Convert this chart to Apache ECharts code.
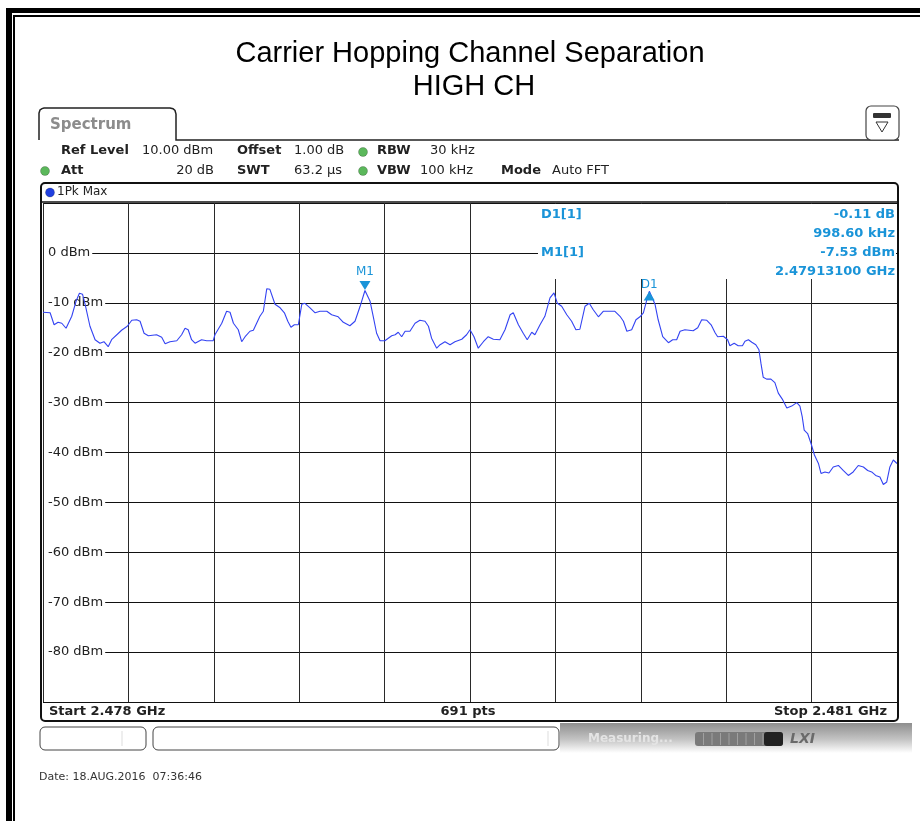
<!DOCTYPE html>
<html>
<head>
<meta charset="utf-8">
<title>Carrier Hopping Channel Separation</title>
<script src="https://cdn.jsdelivr.net/npm/echarts@6/dist/echarts.min.js"></script>
<style>
  html, body { margin: 0; padding: 0; background: #fff; }
  #chart { width: 920px; height: 821px; }
</style>
</head>
<body>
<div id="chart"></div>
<script>
"use strict"
// sweep 2.478 .. 2.481 GHz, x values are MHz from start
const startGHz = 2.478;
const stopGHz = 2.481;
const freqOffset = [
  0.000, 0.025, 0.039, 0.053, 0.066, 0.081, 0.101, 0.116, 0.128, 0.139,
  0.148, 0.165, 0.183, 0.200, 0.214, 0.229, 0.241, 0.265, 0.276, 0.296,
  0.312, 0.329, 0.341, 0.355, 0.370, 0.399, 0.417, 0.429, 0.446, 0.470,
  0.487, 0.499, 0.510, 0.522, 0.534, 0.557, 0.575, 0.598, 0.604, 0.628,
  0.645, 0.657, 0.669, 0.686, 0.698, 0.710, 0.727, 0.739, 0.762, 0.774,
  0.786, 0.797, 0.815, 0.833, 0.848, 0.860, 0.871, 0.883, 0.897, 0.909,
  0.920, 0.938, 0.956, 0.973, 0.997, 1.014, 1.037, 1.055, 1.078, 1.096,
  1.114, 1.131, 1.149, 1.160, 1.172, 1.184, 1.201, 1.213, 1.225, 1.237,
  1.248, 1.260, 1.272, 1.289, 1.307, 1.324, 1.342, 1.354, 1.365, 1.383,
  1.395, 1.412, 1.430, 1.447, 1.471, 1.488, 1.500, 1.514, 1.529, 1.547,
  1.564, 1.582, 1.605, 1.623, 1.641, 1.652, 1.670, 1.687, 1.701, 1.717,
  1.728, 1.746, 1.763, 1.781, 1.795, 1.807, 1.822, 1.840, 1.857, 1.872,
  1.886, 1.904, 1.919, 1.933, 1.951, 1.968, 1.992, 2.009, 2.027, 2.039,
  2.051, 2.068, 2.083, 2.097, 2.109, 2.123, 2.130, 2.150, 2.161, 2.177,
  2.197, 2.212, 2.226, 2.238, 2.255, 2.284, 2.300, 2.314, 2.332, 2.347,
  2.361, 2.370, 2.390, 2.405, 2.413, 2.428, 2.442, 2.457, 2.466, 2.478,
  2.490, 2.504, 2.515, 2.522, 2.530, 2.542, 2.557, 2.571, 2.583, 2.597,
  2.613, 2.630, 2.648, 2.659, 2.667, 2.674, 2.686, 2.698, 2.710, 2.724,
  2.733, 2.747, 2.761, 2.776, 2.794, 2.811, 2.829, 2.846, 2.864, 2.882,
  2.897, 2.911, 2.925, 2.940, 2.952, 2.964, 2.975, 2.987, 3.000
];
const levelDbm = [
  -11.9, -12.0, -14.4, -13.9, -14.1, -15.1, -12.7, -9.7, -8.1, -8.3,
  -10.3, -14.7, -17.4, -18.1, -17.8, -18.8, -17.4, -16.1, -15.5, -14.7,
  -13.5, -13.4, -13.7, -16.1, -16.6, -16.4, -16.9, -18.2, -17.8, -17.6,
  -16.4, -15.1, -15.4, -17.4, -18.1, -17.4, -17.6, -17.6, -16.4, -14.1,
  -11.7, -11.9, -14.1, -15.4, -17.8, -16.8, -15.7, -15.5, -12.7, -11.7,
  -7.2, -7.3, -10.3, -11.0, -12.0, -13.7, -14.9, -14.4, -14.4, -10.3,
  -10.1, -11.0, -12.0, -11.7, -11.7, -12.4, -12.8, -13.9, -14.6, -13.7,
  -10.7, -7.53, -9.7, -12.7, -16.1, -17.6, -17.6, -17.1, -16.6, -16.4,
  -15.9, -16.8, -15.7, -15.7, -14.1, -13.5, -13.7, -14.7, -17.1, -19.1,
  -18.4, -17.8, -18.4, -17.8, -17.3, -16.4, -15.4, -16.8, -19.1, -17.8,
  -16.8, -17.3, -17.4, -15.4, -12.4, -12.0, -14.4, -16.1, -17.4, -15.9,
  -16.4, -14.4, -12.7, -9.0, -8.0, -10.1, -10.7, -12.4, -13.7, -15.4,
  -15.3, -10.7, -10.1, -11.4, -12.8, -11.7, -11.7, -11.7, -12.7, -13.7,
  -15.7, -15.4, -13.4, -12.8, -12.0, -9.0, -7.7, -10.3, -13.4, -16.8,
  -18.0, -17.4, -17.4, -15.7, -15.4, -15.6, -15.0, -13.4, -13.5, -14.4,
  -16.0, -16.8, -16.7, -17.4, -18.6, -18.1, -18.6, -18.6, -17.7, -17.4,
  -17.9, -18.4, -19.4, -22.1, -24.9, -25.3, -25.3, -26.0, -28.1, -29.3,
  -31.1, -30.7, -30.0, -30.7, -32.8, -35.5, -36.2, -38.2, -40.5, -42.2,
  -44.2, -43.9, -44.1, -42.9, -42.6, -43.6, -44.6, -43.9, -42.6, -42.9,
  -43.6, -43.9, -44.6, -44.9, -46.4, -45.9, -42.9, -41.5, -42.2
];
// markers
const m1Offset = 1.131;
const m1Level = -7.53;
const d1DeltaKHz = 998.60;
const d1DeltaDb = -0.11;
const sweepPoints = 691;

const traceData = freqOffset.map(function (f, i) { return [f, levelDbm[i]]; });
const d1Offset = m1Offset + d1DeltaKHz / 1000;
const d1Level = m1Level + d1DeltaDb;

const uiFont = '"DejaVu Sans", Verdana, sans-serif';
const mkColor = '#1a94d8';
const frameColor = '#111';

function txt(text, x, y, o) {
    o = o || {};
    return {
        type: 'text', x: x, y: y, z: 5,
        style: {
            text: text,
            fill: o.fill || '#222',
            font: o.font || ('13px ' + uiFont),
            align: o.align || 'left',
            verticalAlign: 'middle'
        }
    };
}
function dot(x, y, color) {
    return {
        type: 'circle', z: 5,
        shape: {cx: x, cy: y, r: 4.5},
        style: {fill: color, stroke: 'rgba(0,0,0,0.35)', lineWidth: 0.6}
    };
}
function rrect(x, y, w, h, r, style, z) {
    return {type: 'rect', z: z || 4, shape: {x: x, y: y, width: w, height: h, r: r}, style: style};
}
function line(x1, y1, x2, y2, stroke, w, z) {
    return {type: 'line', z: z || 4, shape: {x1: x1, y1: y1, x2: x2, y2: y2}, style: {stroke: stroke, lineWidth: w || 1}};
}

const bold = 'bold 13px ' + uiFont;
const graphics = [
    // outer frame
    rrect(6, 8, 914, 5, 0, {fill: '#000'}),
    rrect(6, 8, 6, 813, 0, {fill: '#000'}),
    rrect(13, 15, 907, 2, 0, {fill: '#000'}),
    rrect(13, 15, 2, 806, 0, {fill: '#000'}),
    // title
    txt('Carrier Hopping Channel Separation', 470, 54, {font: '29px "Liberation Sans", Arial, sans-serif', align: 'center', fill: '#000'}),
    txt('HIGH CH', 474, 87, {font: '29px "Liberation Sans", Arial, sans-serif', align: 'center', fill: '#000'}),
    // tab + settings header
    {type: 'polyline', z: 4,
        shape: {points: [[39, 140], [39, 113], [40, 110], [42, 108.6], [44, 108], [170, 108], [173, 108.7], [175, 110.5], [176, 114], [176, 140], [899, 140]]},
        style: {fill: null, stroke: '#222', lineWidth: 1.5}},
    txt('Spectrum', 50, 125, {font: 'bold 15px ' + uiFont, fill: '#8c8c8c'}),
    rrect(866, 106, 33, 34, 5, {fill: '#fff', stroke: '#444', lineWidth: 1.2}),
    rrect(873, 113, 18, 5, 1, {fill: '#333'}),
    {type: 'polygon', z: 5, shape: {points: [[876, 122], [888, 122], [882, 132]]}, style: {fill: '#fff', stroke: '#333', lineWidth: 1}},
    txt('Ref Level', 61, 151, {font: bold}),
    txt('10.00 dBm', 142, 151),
    txt('Offset', 237, 151, {font: bold}),
    txt('1.00 dB', 294, 151),
    dot(363, 152, '#5bb85b'),
    txt('RBW', 377, 151, {font: bold}),
    txt('30 kHz', 430, 151),
    dot(45, 171, '#5bb85b'),
    txt('Att', 61, 171, {font: bold}),
    txt('20 dB', 214, 171, {align: 'right'}),
    txt('SWT', 237, 171, {font: bold}),
    txt('63.2 µs', 294, 171),
    dot(363, 171, '#5bb85b'),
    txt('VBW', 377, 171, {font: bold}),
    txt('100 kHz', 420, 171),
    txt('Mode', 501, 171, {font: bold}),
    txt('Auto FFT', 552, 171),
    // plot box
    rrect(41, 183, 857, 538, 4, {fill: null, stroke: frameColor, lineWidth: 2}, 6),
    line(41, 202, 898, 202, frameColor, 1.5, 6),
    dot(50, 192.5, '#2040e0'),
    txt('1Pk Max', 57, 192, {font: '12px ' + uiFont}),
    // marker table (blanks the grid behind it)
    rrect(538, 204, 358, 75, 0, {fill: '#fff'}, 1),
    txt('D1[1]', 541, 215, {font: bold, fill: mkColor}),
    txt(d1DeltaDb.toFixed(2) + ' dB', 895, 215, {font: bold, fill: mkColor, align: 'right'}),
    txt(d1DeltaKHz.toFixed(2) + ' kHz', 895, 234, {font: bold, fill: mkColor, align: 'right'}),
    txt('M1[1]', 541, 253, {font: bold, fill: mkColor}),
    txt(m1Level.toFixed(2) + ' dBm', 895, 253, {font: bold, fill: mkColor, align: 'right'}),
    txt((startGHz + m1Offset / 1000).toFixed(8) + ' GHz', 895, 272, {font: bold, fill: mkColor, align: 'right'}),
    // footer of the plot
    txt('Start ' + startGHz.toFixed(3) + ' GHz', 49, 712, {font: bold}),
    txt(sweepPoints + ' pts', 468, 712, {font: bold, align: 'center'}),
    txt('Stop ' + stopGHz.toFixed(3) + ' GHz', 887, 712, {font: bold, align: 'right'}),
    // status bar
    rrect(40, 727, 106, 23, 5, {fill: '#fff', stroke: '#444', lineWidth: 1}),
    line(122, 731, 122, 746, '#ddd', 1),
    rrect(153, 727, 406, 23, 5, {fill: '#fff', stroke: '#444', lineWidth: 1}),
    line(548, 731, 548, 746, '#ddd', 1),
    rrect(560, 723, 352, 30, 0, {fill: new echarts.graphic.LinearGradient(0, 0, 0, 1, [
        {offset: 0, color: '#8e8e8e'}, {offset: 0.55, color: '#c4c4c4'}, {offset: 1, color: '#ffffff'}])}, 3),
    txt('Measuring...', 588, 739, {font: 'bold 12px ' + uiFont, fill: '#e4e4e4'}),
    rrect(695, 732, 88, 14, 3, {fill: '#7a7a7a'}),
    rrect(764, 732, 19, 14, 3, {fill: '#222'}),
    txt('LXI', 790, 739, {font: 'italic bold 14px ' + uiFont, fill: '#6a6a6a'}),
    // date stamp
    txt('Date: 18.AUG.2016  07:36:46', 39, 777, {font: '11px ' + uiFont, fill: '#333'})
];
// progress bar segment marks
for (let i = 1; i < 9; i++) {
    graphics.push(line(695 + i * 8.5, 733, 695 + i * 8.5, 745, '#a0a0a0', 1, 5));
}

const chart = echarts.init(document.getElementById('chart'), null, {renderer: 'canvas'});
chart.setOption({
    animation: false,
    backgroundColor: '#fff',
    grid: {left: 43, right: 23, top: 203, bottom: 119},
    xAxis: {
        type: 'value', min: 0, max: 3, interval: 0.3,
        axisLine: {show: false}, axisTick: {show: false}, axisLabel: {show: false},
        splitLine: {show: true, lineStyle: {color: '#2a2a2a', width: 1}}
    },
    yAxis: {
        type: 'value', min: -90, max: 10, interval: 10,
        axisLine: {show: false}, axisTick: {show: false},
        axisLabel: {
            inside: true, margin: 1, color: '#222', fontSize: 13, fontFamily: uiFont,
            backgroundColor: '#fff', padding: [0, 2, 0, 4],
            formatter: function (v) { return (v >= 10 || v <= -90) ? '' : v + ' dBm'; }
        },
        splitLine: {show: true, lineStyle: {color: '#111', width: 1}}
    },
    series: [{
        type: 'line',
        data: traceData,
        showSymbol: false,
        lineStyle: {color: '#3343f2', width: 1.1},
        z: 3,
        markPoint: {
            symbol: 'triangle',
            symbolSize: [11, 9],
            itemStyle: {color: mkColor},
            label: {show: true, position: 'top', distance: 3, color: mkColor, fontSize: 12, fontFamily: uiFont},
            data: [
                {name: 'M1', coord: [m1Offset, m1Level], symbolRotate: 180, symbolOffset: [0, -5], label: {formatter: 'M1'}},
                {name: 'D1', coord: [d1Offset, d1Level], symbolOffset: [0, 5], label: {formatter: 'D1', distance: 1}}
            ]
        }
    }],
    graphic: {elements: graphics}
});
</script>
</body>
</html>
